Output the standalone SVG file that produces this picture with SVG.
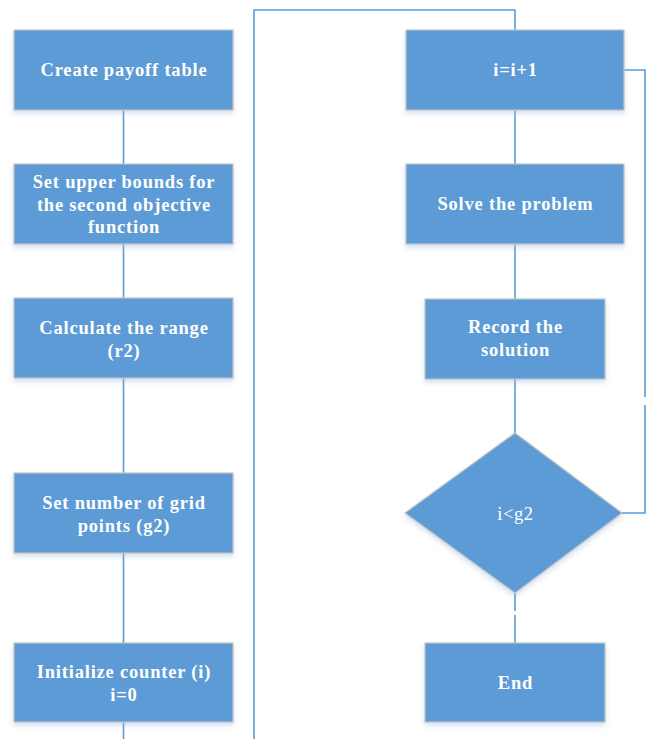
<svg xmlns="http://www.w3.org/2000/svg" width="647" height="739" viewBox="0 0 647 739">
<defs>
<filter id="sh" x="-10%" y="-10%" width="120%" height="130%">
<feDropShadow dx="0" dy="3" stdDeviation="2.5" flood-color="#9dbbe0" flood-opacity="0.45"/>
</filter>
<style>
.box{fill:#5B9BD5;stroke:#C3C3C3;stroke-width:1.2;filter:url(#sh)}
.t{font-family:"Liberation Serif","DejaVu Serif",serif;font-weight:bold;font-size:18.5px;letter-spacing:0.8px;fill:#FFFFFF;text-anchor:middle}
.tn{font-family:"Liberation Serif","DejaVu Serif",serif;font-weight:normal;font-size:18.5px;letter-spacing:0.6px;fill:#FFFFFF;text-anchor:middle}
.c{fill:none;stroke:#5B9BD5;stroke-width:1.6}
</style>
</defs>
<rect width="647" height="739" fill="#FFFFFF"/>
<g id="connectors">
<path class="c" d="M123.5 110 V164"/>
<path class="c" d="M123.5 244 V298"/>
<path class="c" d="M123.5 378 V473"/>
<path class="c" d="M123.5 553 V643"/>
<path class="c" d="M123.5 722 V739"/>
<path class="c" d="M254 739 V10 H515 V30"/>
<path class="c" d="M515 110 V164"/>
<path class="c" d="M515 244 V299"/>
<path class="c" d="M515 379 V433"/>
<path class="c" d="M515 593 V611"/>
<path class="c" d="M515 615 V643"/>
<path class="c" d="M622 513 H645 V405"/>
<path class="c" d="M645 397 V70 H624"/>
</g>
<g id="n1"><rect class="box" x="14" y="30" width="219" height="80"/><text class="t" x="124" y="76">Create payoff table</text></g>
<g id="n2"><rect class="box" x="14" y="164" width="219" height="80"/><text class="t" x="124" y="188">Set upper bounds for</text><text class="t" x="124" y="211">the second objective</text><text class="t" x="124" y="233">function</text></g>
<g id="n3"><rect class="box" x="14" y="298" width="219" height="80"/><text class="t" x="124" y="334">Calculate the range</text><text class="t" x="124" y="357">(r2)</text></g>
<g id="n4"><rect class="box" x="14" y="473" width="219" height="80"/><text class="t" x="124" y="509">Set number of grid</text><text class="t" x="124" y="532">points (g2)</text></g>
<g id="n5"><rect class="box" x="14" y="643" width="219" height="79"/><text class="t" x="124" y="678">Initialize counter (i)</text><text class="t" x="124" y="701">i=0</text></g>
<g id="n6"><rect class="box" x="406" y="30" width="218" height="80"/><text class="t" x="515.5" y="76">i=i+1</text></g>
<g id="n7"><rect class="box" x="406" y="164" width="218" height="80"/><text class="t" x="515.5" y="210">Solve the problem</text></g>
<g id="n8"><rect class="box" x="425" y="299" width="180" height="80"/><text class="t" x="515.5" y="333">Record the</text><text class="t" x="515.5" y="356">solution</text></g>
<g id="n9"><polygon class="box" points="515,433 622,513 515,593 405,513"/><text class="tn" x="515.5" y="520">i&lt;g2</text></g>
<g id="n10"><rect class="box" x="425" y="643" width="180" height="79"/><text class="t" x="515.5" y="689">End</text></g>
</svg>
